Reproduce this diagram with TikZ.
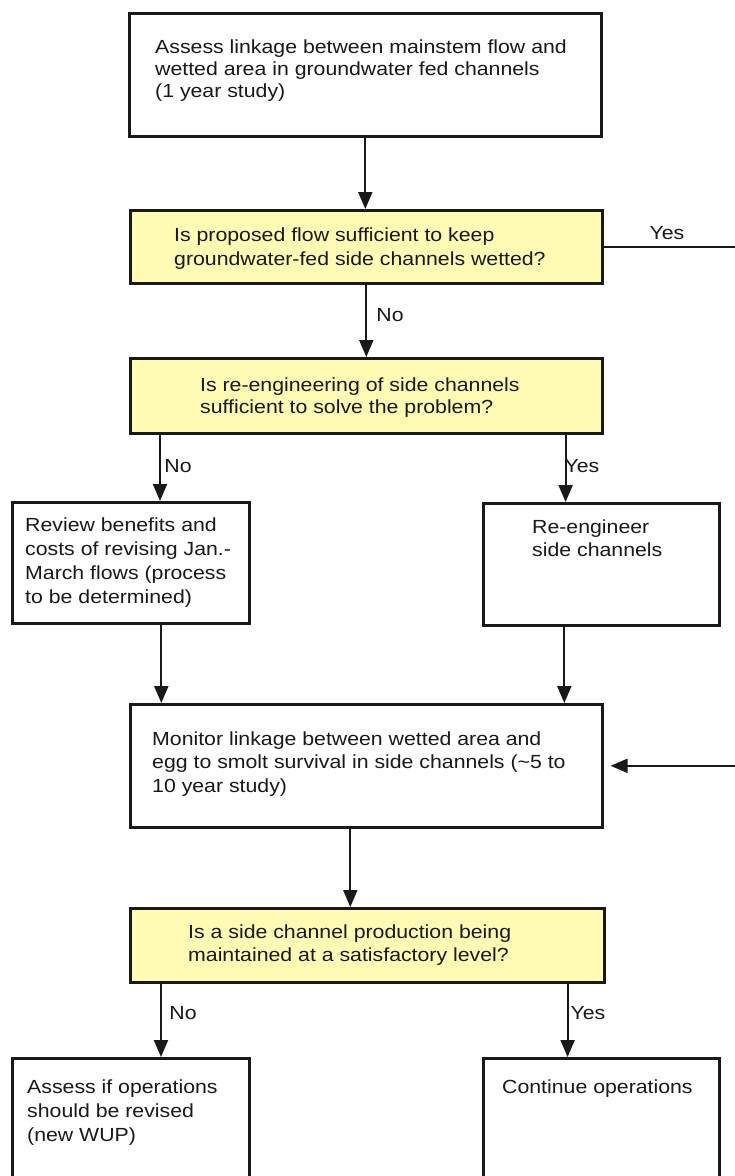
\documentclass[tikz,border=0pt]{standalone}
\usepackage{fontspec}
\setmainfont{Liberation Sans}[FakeStretch=1.12]
\usetikzlibrary{arrows.meta}
\definecolor{qfill}{RGB}{255,250,180}
\definecolor{ink}{RGB}{25,25,25}
\tikzset{
  box/.style={draw=ink, line width=2.6pt, fill=white, anchor=north west, inner sep=0pt},
  qbox/.style={box, fill=qfill},
  txt/.style={anchor=north west, inner sep=0pt, align=left, text=ink, font=\fontsize{19}{23.5}\selectfont},
  lbl/.style={inner sep=0pt, text=ink, font=\fontsize{19}{23}\selectfont},
  arr/.style={draw=ink, line width=2.1pt, -{Triangle[length=17pt,width=14pt]}},
}
\newcommand{\fs}{\rule{0pt}{15pt}}
\begin{document}
\begin{tikzpicture}[x=1pt,y=-1pt]
\useasboundingbox (0,0) rectangle (735,1176);
\fill[white] (0,0) rectangle (735,1176);
\clip (0,0) rectangle (735,1176);

% boxes
\node[box,  minimum width=472pt, minimum height=123pt] (b1) at (128,12) {};
\node[qbox, minimum width=472pt, minimum height=73pt]  (d1) at (129,209) {};
\node[qbox, minimum width=472pt, minimum height=75pt]  (d2) at (129,357) {};
\node[box,  minimum width=237pt, minimum height=121pt] (L)  at (11,501) {};
\node[box,  minimum width=236pt, minimum height=122pt] (R)  at (482,502) {};
\node[box,  minimum width=472pt, minimum height=123pt] (M)  at (129,703) {};
\node[qbox, minimum width=474pt, minimum height=74pt]  (d3) at (129,907) {};
\node[box,  minimum width=237pt, minimum height=160pt] (L2) at (11,1057) {};
\node[box,  minimum width=236pt, minimum height=160pt] (R2) at (482,1057) {};

% texts
\node[txt, font=\fontsize{19}{21.7}\selectfont] (t1) at (155,38.5)
  {\fs Assess linkage between mainstem flow and\\wetted area in groundwater fed channels\\(1 year study)};
\node[txt, font=\fontsize{19}{23.3}\selectfont] (tq1) at (174,226.5)
  {\fs Is proposed flow sufficient to keep\\groundwater-fed side channels wetted?};
\node[txt, font=\fontsize{19}{21.5}\selectfont] (tq2) at (200,376.7)
  {\fs Is re-engineering of side channels\\sufficient to solve the problem?};
\node[txt, font=\fontsize{19}{23.8}\selectfont] (tL) at (25,516.7)
  {\fs Review benefits and\\costs of revising Jan.-\\March flows (process\\to be determined)};
\node[txt, font=\fontsize{19}{23.7}\selectfont] (tR) at (532,518)
  {\fs Re-engineer\\side channels};
\node[txt] (tM) at (152,730)
  {\fs Monitor linkage between wetted area and\\egg to smolt survival in side channels (\textasciitilde5 to\\10 year study)};
\node[txt, font=\fontsize{19}{23}\selectfont] (tq3) at (188,923)
  {\fs Is a side channel production being\\maintained at a satisfactory level?};
\node[txt, font=\fontsize{19}{24}\selectfont] (tL2) at (27,1078)
  {\fs Assess if operations\\should be revised\\(new WUP)};
\node[txt] (tR2) at (502,1078) {\fs Continue operations};

% connectors
\coordinate (rt) at (740,0);
\draw[arr] (b1.south) -- (b1.south |- d1.north);
\draw[arr] (d1.south) -- (d1.south |- d2.north);
\draw[arr] ([xshift=31pt]d2.south west) -- ([xshift=31pt]d2.south west |- L.north);
\draw[arr] ([xshift=-38pt]d2.south east) -- ([xshift=-38pt]d2.south east |- R.north);
\draw[arr] ([xshift=30.5pt]L.south) -- ([xshift=30.5pt]L.south |- M.north);
\draw[arr] ([xshift=-37pt]R.south) -- ([xshift=-37pt]R.south |- M.north);
\draw[arr] ([xshift=-16pt]M.south) -- ([xshift=-16pt]M.south |- d3.north);
\draw[arr] ([xshift=32pt]d3.south west) -- ([xshift=32pt]d3.south west |- L2.north);
\draw[arr] ([xshift=-38pt]d3.south east) -- ([xshift=-38pt]d3.south east |- R2.north);
\draw[arr, shorten >=7pt] (d1.east) -- (d1.east -| rt) |- (M.east);

% branch labels
\node[lbl] (y1) at (667,233) {Yes};
\node[lbl] (n1) at (390,315) {No};
\node[lbl] (n2) at (178,466) {No};
\node[lbl] (y2) at (582,466) {Yes};
\node[lbl] (n3) at (183,1013) {No};
\node[lbl] (y3) at (588,1013) {Yes};
\end{tikzpicture}
\end{document}
